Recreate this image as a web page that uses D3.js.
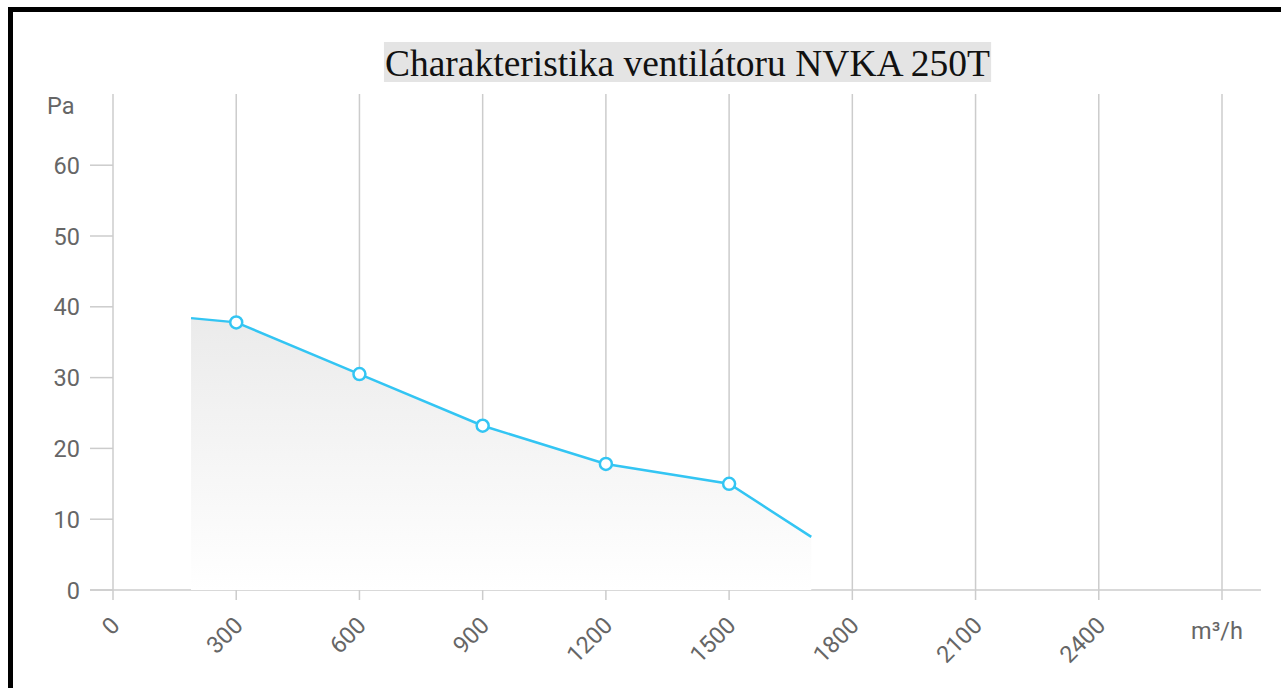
<!DOCTYPE html>
<html>
<head>
<meta charset="utf-8">
<script src="https://cdn.jsdelivr.net/npm/d3@7"></script>
<style>
  html, body { margin: 0; padding: 0; background: #fff; overflow: hidden; }
  svg { display: block; }
</style>
</head>
<body>
<svg id="chart" width="1281" height="688"></svg>
<script>
const title = "Charakteristika ventilátoru NVKA 250T";
const flowTicks = [0, 300, 600, 900, 1200, 1500, 1800, 2100, 2400, 2700];
const pressureTicks = [0, 10, 20, 30, 40, 50, 60, 70];
const flow = [190, 300, 600, 900, 1200, 1500, 1700];
const pressure = [38.4, 37.8, 30.5, 23.2, 17.8, 15.0, 7.5];
const markedFlow = [300, 600, 900, 1200, 1500];

const svg = d3.select("#chart");
const labelFont = "Roboto, sans-serif";
const labelColor = "#666";

// frame
svg.append("path")
  .attr("d", "M10.5,700 L10.5,9.5 L1300,9.5")
  .attr("fill", "none")
  .attr("stroke", "#000")
  .attr("stroke-width", 5);

const x = d3.scaleLinear().domain([0, 2700]).range([113, 1222]);
const y = d3.scaleLinear().domain([0, 70]).range([590, 94.4]);

const defs = svg.append("defs");
const grad = defs.append("linearGradient")
  .attr("id", "areaFill")
  .attr("x1", 0).attr("y1", 0).attr("x2", 0).attr("y2", 1);
grad.append("stop").attr("offset", "0%").attr("stop-color", "#ebebeb");
grad.append("stop").attr("offset", "100%").attr("stop-color", "#ffffff");

// vertical grid
svg.append("g")
  .selectAll("line")
  .data(flowTicks)
  .join("line")
  .attr("x1", d => x(d)).attr("x2", d => x(d))
  .attr("y1", 94).attr("y2", 600)
  .attr("stroke", "#cccccc")
  .attr("stroke-width", 1.5);

// x axis line
svg.append("line")
  .attr("x1", 90).attr("x2", 1261)
  .attr("y1", y(0)).attr("y2", y(0))
  .attr("stroke", "#cccccc")
  .attr("stroke-width", 1.5);

// y ticks
svg.append("g")
  .selectAll("line")
  .data(pressureTicks.filter(d => d < 70))
  .join("line")
  .attr("x1", 90).attr("x2", 113)
  .attr("y1", d => y(d)).attr("y2", d => y(d))
  .attr("stroke", "#cccccc")
  .attr("stroke-width", 1.5);

svg.append("g")
  .selectAll("text")
  .data(pressureTicks)
  .join("text")
  .attr("x", d => d === 70 ? 47 : 80)
  .attr("y", d => d === 70 ? 114 : y(d) + 8.5)
  .attr("text-anchor", d => d === 70 ? "start" : "end")
  .attr("font-family", labelFont)
  .attr("font-size", 23.5)
  .attr("fill", labelColor)
  .text(d => d === 70 ? "Pa" : d);

// x tick labels
svg.append("g")
  .selectAll("text")
  .data(flowTicks.slice(0, -1))
  .join("text")
  .attr("transform", d => `translate(${x(d) + 8},${627}) rotate(-45)`)
  .attr("text-anchor", "end")
  .attr("font-family", labelFont)
  .attr("font-size", 23.5)
  .attr("fill", labelColor)
  .text(d => d);

svg.append("text")
  .attr("x", 1217)
  .attr("y", 639)
  .attr("text-anchor", "middle")
  .attr("font-family", labelFont)
  .attr("font-size", 23.5)
  .attr("fill", labelColor)
  .text("m³/h");

const pts = flow.map((f, i) => [f, pressure[i]]);

svg.append("path")
  .datum(pts)
  .attr("d", d3.area().x(d => x(d[0])).y0(y(0)).y1(d => y(d[1])))
  .attr("fill", "url(#areaFill)");

svg.append("path")
  .datum(pts)
  .attr("d", d3.line().x(d => x(d[0])).y(d => y(d[1])))
  .attr("fill", "none")
  .attr("stroke", "#33c5f3")
  .attr("stroke-width", 2.5);

svg.append("g")
  .selectAll("circle")
  .data(pts.filter(d => markedFlow.includes(d[0])))
  .join("circle")
  .attr("cx", d => x(d[0]))
  .attr("cy", d => y(d[1]))
  .attr("r", 6)
  .attr("fill", "#fff")
  .attr("stroke", "#33c5f3")
  .attr("stroke-width", 2.5);

// title
const t = svg.append("text")
  .attr("x", 687.5)
  .attr("y", 76)
  .attr("text-anchor", "middle")
  .attr("font-family", "'Liberation Serif', serif")
  .attr("font-size", 37.5)
  .attr("fill", "#111")
  .text(title);
const bb = t.node().getBBox();
svg.insert("rect", () => t.node())
  .attr("x", bb.x - 1).attr("y", 42)
  .attr("width", bb.width + 2).attr("height", 40)
  .attr("fill", "#e4e4e4");
</script>
</body>
</html>
